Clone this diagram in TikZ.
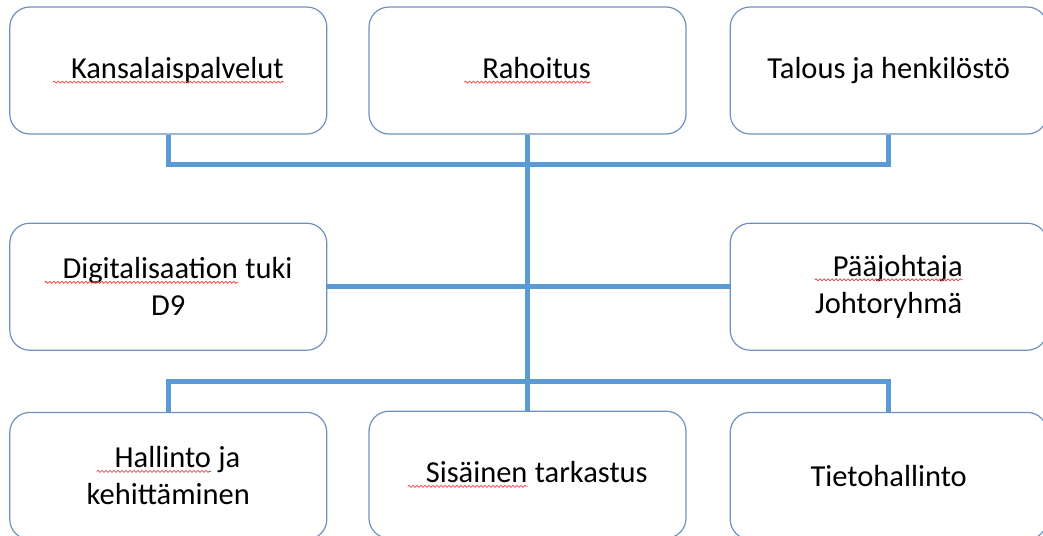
\documentclass[tikz,border=0pt]{standalone}
\usepackage{fontspec}
\setmainfont{Carlito}
\usepackage{xcolor}
\usepackage{tikz}
\usetikzlibrary{positioning, decorations.pathmorphing}

\definecolor{linkblue}{HTML}{5B9BD5}
\definecolor{boxline}{HTML}{6E92C0}
\definecolor{spellred}{HTML}{F04848}

% word with a wavy red underline (the underline starts a little before the word)
\newcommand{\spell}[1]{%
  \tikz[baseline=(wd.base)]{%
    \node[inner sep=0pt, outer sep=0pt, minimum width=0pt, minimum height=0pt,
      sharp corners, anchor=base west] (wd) at (0,0) {\hspace*{18pt}#1};
    \draw[spellred, line width=0.8pt, sharp corners, decorate,
      decoration={snake, amplitude=1pt, segment length=4pt}]
      ([yshift=-3.5pt]wd.base west) -- ([yshift=-3.5pt]wd.base east);
  }%
}

\begin{document}
\begin{tikzpicture}[
  node distance=88pt and 41pt,
  box/.style={draw=boxline, line width=1.2pt, rounded corners=20pt, fill=white,
    minimum width=317pt, minimum height=127pt, inner sep=0pt, align=center,
    font=\fontsize{30.5}{37}\selectfont},
  link/.style={draw=linkblue, line width=5pt}
]
  \path[use as bounding box, fill=white] (0,0) rectangle (1043pt,-535pt);

  \node[box] (rah) at (527.5pt,-70.5pt) {\spell{Rahoitus}};
  \node[box, left=41pt of rah] (kans) {\spell{Kansalaispalvelut}};
  \node[box, right=43pt of rah] (tal) {Talous ja henkilöstö};

  \node[box, below=of kans] (dig) {\spell{Digitalisaation} tuki\\D9};
  \node[box, below=of tal] (paa) {\spell{Pääjohtaja}\\Johtoryhmä};

  \node[box, below=61pt of dig] (hal) {\spell{Hallinto} ja\\kehittäminen};
  \node[box, below=276pt of rah] (sis) {\spell{Sisäinen} tarkastus};
  \node[box, below=61pt of paa] (tie) {Tietohallinto};

  \draw[link] (kans.south) -- ++(0,-30pt) -| (tal.south);
  \draw[link] (rah.south) -- (sis.north);
  \draw[link] (dig.east) -- (paa.west);
  \draw[link] (hal.north) -- ++(0,30pt) -| (tie.north);
\end{tikzpicture}
\end{document}
